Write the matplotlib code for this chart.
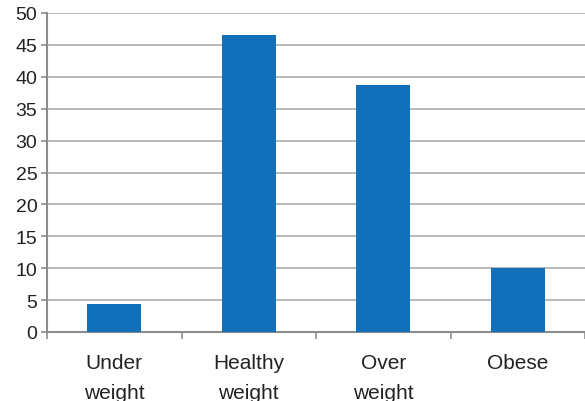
import matplotlib
matplotlib.use("Agg")
import matplotlib.pyplot as plt
import numpy as np

categories = ["Under\nweight", "Healthy\nweight", "Over\nweight", "Obese"]
values = [4.4, 46.5, 38.7, 10.0]
yticks = [0, 5, 10, 15, 20, 25, 30, 35, 40, 45, 50]

plt.rcParams['font.family'] = ['Liberation Sans', 'DejaVu Sans']

fig = plt.figure(figsize=(5.85, 4.02), dpi=100)
ax = fig.add_axes([47/585, 1 - 333/402, (585 - 47)/585, (333 - 14)/402])

x = np.arange(len(categories))
ax.bar(x, values, width=0.4, color="#1170b9", zorder=3)

ax.set_ylim(0, 50)
ax.set_xlim(-0.5, 3.485)
ax.set_yticks(yticks)
ax.set_yticklabels([str(t) for t in yticks], fontsize=14, color="#222222")
ax.yaxis.grid(True, color="#b3b3b3", linewidth=1.3, zorder=0)

ax.set_xticks(np.arange(len(categories) + 1) - 0.5)
ax.set_xticklabels([])
ax.set_xticks(x, minor=True)
ax.set_xticklabels(categories, minor=True, fontsize=15, color="#222222", linespacing=1.75)
ax.tick_params(axis='x', which='minor', length=0, pad=15)
ax.tick_params(axis='x', which='major', length=5, color="#8c8c8c", width=1.2)
ax.tick_params(axis='y', length=4, color="#8c8c8c", width=1.2, pad=3)

for s in ["top", "right"]:
    ax.spines[s].set_visible(False)
for s in ["left", "bottom"]:
    ax.spines[s].set_color("#8c8c8c")
    ax.spines[s].set_linewidth(1.5)

fig.savefig("out.png", dpi=100)
